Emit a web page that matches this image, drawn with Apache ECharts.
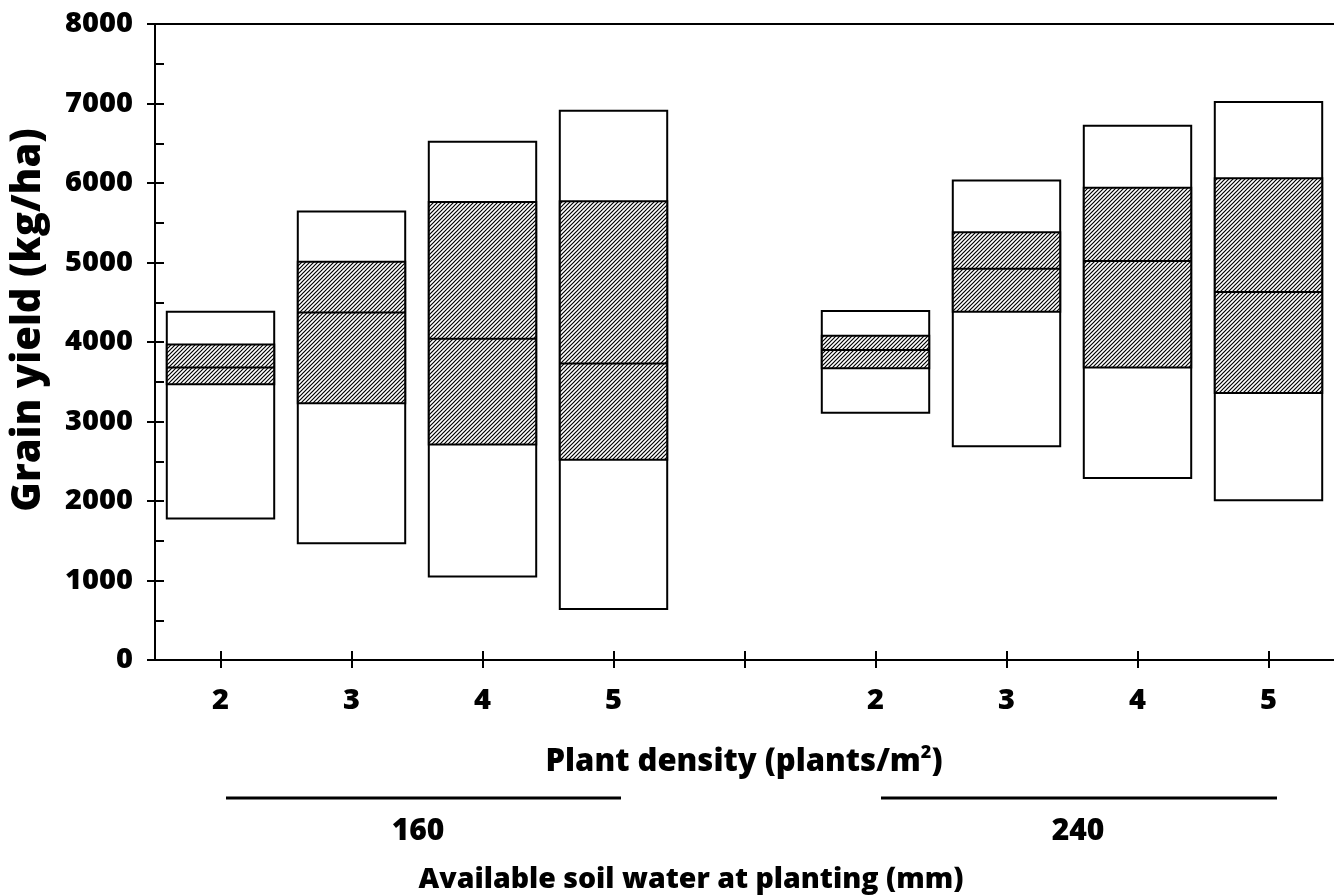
<!DOCTYPE html>
<html>
<head>
<meta charset="utf-8">
<script src="https://cdn.jsdelivr.net/npm/echarts@6/dist/echarts.min.js"></script>
<style>
html,body{margin:0;padding:0;background:#fff;}
#chart{width:1334px;height:896px;}
</style>
</head>
<body>
<div id="chart"></div>
<script>
// Categories (plant density) — blank slot separates the two soil-water groups
const categories = ['2', '3', '4', '5', '', '2', '3', '4', '5'];
const yTicks = [0, 1000, 2000, 3000, 4000, 5000, 6000, 7000, 8000];
// Each box: [minimum, lower hatched edge, median, upper hatched edge, maximum]
const water160 = [
  [1780, 3470, 3680, 3970, 4380],
  [1470, 3230, 4370, 5010, 5640],
  [1050, 2710, 4040, 5760, 6520],
  [640, 2520, 3730, 5770, 6910]
];
const water240 = [
  [3110, 3670, 3900, 4080, 4390],
  [2690, 4380, 4920, 5380, 6030],
  [2290, 3680, 5020, 5940, 6720],
  [2010, 3360, 4630, 6060, 7020]
];
const groupLabels = ['160', '240'];

const FONT = '"Open Sans"';
const W = 800;

// hatch pattern
const pc = document.createElement('canvas');
pc.width = 4; pc.height = 4;
const pctx = pc.getContext('2d');
pctx.fillStyle = '#fff';
pctx.fillRect(0, 0, 4, 4);
pctx.strokeStyle = '#000';
pctx.lineWidth = 1.2;
pctx.beginPath();
pctx.moveTo(-1, 5); pctx.lineTo(5, -1);
pctx.moveTo(-1, 1); pctx.lineTo(1, -1);
pctx.moveTo(3, 5); pctx.lineTo(5, 3);
pctx.stroke();

const boxData = [];
water160.forEach((b, i) => boxData.push([i].concat(b)));
water240.forEach((b, i) => boxData.push([i + 5].concat(b)));

const chart = echarts.init(document.getElementById('chart'));

function renderItem(params, api) {
  const x = api.value(0);
  const w = api.size([1, 0])[0] * 0.82;
  const pMin = api.coord([x, api.value(1)]);
  const pQ1 = api.coord([x, api.value(2)]);
  const pMed = api.coord([x, api.value(3)]);
  const pQ3 = api.coord([x, api.value(4)]);
  const pMax = api.coord([x, api.value(5)]);
  const left = pMin[0] - w / 2;
  return {
    type: 'group',
    children: [
      { type: 'rect', shape: { x: left, y: pMax[1], width: w, height: pMin[1] - pMax[1] },
        style: { fill: '#fff', stroke: '#000', lineWidth: 2 } },
      { type: 'rect', shape: { x: left, y: pQ3[1], width: w, height: pQ1[1] - pQ3[1] },
        style: { fill: { image: pc, repeat: 'repeat' }, stroke: '#000', lineWidth: 2 } },
      { type: 'line', shape: { x1: left, y1: pMed[1], x2: left + w, y2: pMed[1] },
        style: { stroke: '#000', lineWidth: 2 } }
    ]
  };
}

const axisLineStyle = { color: '#000', width: 2 };
const tickFont = { color: '#000', fontFamily: FONT, fontWeight: W, fontSize: 29 };

chart.setOption({
  animation: false,
  backgroundColor: '#fff',
  grid: { left: 155, right: 0, top: 24, bottom: 236, containLabel: false },
  xAxis: [
    {
      type: 'category', data: categories, position: 'bottom',
      axisLine: { show: true, lineStyle: axisLineStyle },
      axisTick: { show: true, alignWithLabel: true, length: 8, lineStyle: { color: '#000', width: 2 } },
      axisLabel: Object.assign({ margin: 26 }, tickFont),
      splitLine: { show: false }
    },
    {
      type: 'category', data: categories, position: 'bottom',
      axisLine: { show: true, lineStyle: axisLineStyle },
      axisTick: { show: true, inside: true, alignWithLabel: true, length: 9, lineStyle: { color: '#000', width: 2 } },
      axisLabel: { show: false }, splitLine: { show: false }
    },
    {
      type: 'category', data: categories, position: 'top',
      axisLine: { show: true, lineStyle: axisLineStyle },
      axisTick: { show: false }, axisLabel: { show: false }, splitLine: { show: false }
    }
  ],
  yAxis: [
    {
      type: 'value', min: yTicks[0], max: yTicks[yTicks.length - 1], interval: 1000, position: 'left',
      axisLine: { show: true, lineStyle: axisLineStyle },
      axisTick: { show: true, length: 8, lineStyle: { color: '#000', width: 2 } },
      axisLabel: Object.assign({ margin: 22, formatter: v => String(v) }, tickFont),
      splitLine: { show: false }
    },
    {
      type: 'value', min: yTicks[0], max: yTicks[yTicks.length - 1], interval: 1000, position: 'left',
      axisLine: { show: true, lineStyle: axisLineStyle },
      axisTick: { show: true, inside: true, length: 9, lineStyle: { color: '#000', width: 2 } },
      minorTick: { show: true, splitNumber: 2, length: 9, lineStyle: { color: '#000', width: 2 } },
      axisLabel: { show: false }, splitLine: { show: false }, minorSplitLine: { show: false }
    }
  ],
  series: [{
    type: 'custom',
    renderItem: renderItem,
    encode: { x: 0, y: [1, 2, 3, 4, 5] },
    data: boxData,
    xAxisIndex: 0, yAxisIndex: 0
  }],
  graphic: [
    { type: 'text', x: 29, y: 320, rotation: Math.PI / 2,
      style: { text: 'Grain yield (kg/ha)', fill: '#000', fontFamily: FONT, fontWeight: W, fontSize: 40,
        align: 'center', verticalAlign: 'middle' } },
    { type: 'text', x: 744, y: 762,
      style: { text: 'Plant density (plants/m{sup|2})', fill: '#000', fontFamily: FONT, fontWeight: W, fontSize: 31,
        align: 'center', verticalAlign: 'middle',
        rich: { sup: { fontSize: 18, fontFamily: FONT, fontWeight: W, verticalAlign: 'top', padding: [0, 0, 18, 0], fill: '#000' } } } },
    { type: 'line', shape: { x1: 226, y1: 798, x2: 621, y2: 798 }, style: { stroke: '#000', lineWidth: 3 } },
    { type: 'line', shape: { x1: 881, y1: 798, x2: 1277, y2: 798 }, style: { stroke: '#000', lineWidth: 3 } },
    { type: 'text', x: 418, y: 831,
      style: { text: groupLabels[0], fill: '#000', fontFamily: FONT, fontWeight: W, fontSize: 30, align: 'center', verticalAlign: 'middle' } },
    { type: 'text', x: 1078, y: 831,
      style: { text: groupLabels[1], fill: '#000', fontFamily: FONT, fontWeight: W, fontSize: 30, align: 'center', verticalAlign: 'middle' } },
    { type: 'text', x: 691, y: 880,
      style: { text: 'Available soil water at planting (mm)', fill: '#000', fontFamily: FONT, fontWeight: W, fontSize: 28.5, align: 'center', verticalAlign: 'middle' } }
  ]
});
</script>
</body>
</html>
